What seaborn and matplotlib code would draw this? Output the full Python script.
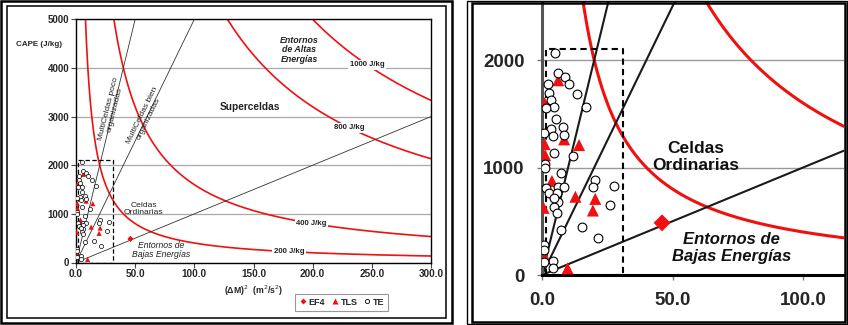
import numpy as np
import pandas as pd
import matplotlib
matplotlib.use("Agg")
import matplotlib.pyplot as plt
import seaborn as sns
from matplotlib.patches import Rectangle
from matplotlib.lines import Line2D

# ---------------- data ----------------
te_dm2 = [5.0, 6.3, 8.7, 10.4, 13.6, 16.8, 2.3, 2.8, 3.6, 4.7, 1.7, 5.3, 7.9, 3.4,
          4.3, 8.5, 0.9, 4.7, 12.0, 1.2, 1.2, 7.3, 6.0, 8.5, 1.5, 2.8, 5.7, 6.2,
          4.7, 5.7, 4.5, 20.3, 19.7, 27.6, 26.0, 7.3, 15.5, 21.3, 0.9, 0.9, 4.3,
          4.3, 0.9]
te_cape = [2065, 1875, 1840, 1778, 1688, 1566, 1780, 1693, 1632, 1562, 1553, 1447,
           1376, 1355, 1290, 1300, 1318, 1132, 1105, 1035, 995, 946, 821, 816, 806,
           760, 766, 682, 635, 580, 715, 884, 821, 828, 651, 422, 449, 344, 275,
           230, 130, 65, 120]
tls_dm2 = [6.2, 1.0, 8.5, 14.2, 1.0, 1.2, 3.8, 0.6, 12.8, 20.4, 19.5, 1.2, 9.8]
tls_cape = [1812, 1600, 1262, 1209, 1218, 1116, 875, 625, 728, 708, 600, 165, 62]
ef4_dm2 = [46.0]
ef4_cape = [485]

energy_levels = [200, 400, 800, 1000]          # sqrt(CAPE * dM^2)  [J/kg]
energy_labels = ["200 J/kg", "400 J/kg", "800 J/kg", "1000 J/kg"]
energy_label_x = [180, 199, 231, 246]
ratio_slopes = [100, 50, 10]                   # CAPE / dM^2 separating lines
box_dm2 = [1.5, 31.0]
box_cape = [0, 2100]

left_xticks = [0, 50, 100, 150, 200, 250, 300]
left_yticks = [0, 1000, 2000, 3000, 4000, 5000]
right_xticks = [0, 50, 100]
right_yticks = [0, 1000, 2000]

df = pd.concat([
    pd.DataFrame({"dm2": te_dm2, "cape": te_cape, "tipo": "TE"}),
    pd.DataFrame({"dm2": tls_dm2, "cape": tls_cape, "tipo": "TLS"}),
    pd.DataFrame({"dm2": ef4_dm2, "cape": ef4_cape, "tipo": "EF4"}),
], ignore_index=True)

# ---------------- style ----------------
sns.set_theme(style="white")
plt.rcParams["font.family"] = ["Liberation Sans", "DejaVu Sans"]
RED = "#f01010"

W, H = 848, 325
fig = plt.figure(figsize=(W / 100, H / 100), dpi=100)
fig.patch.set_facecolor("white")


def ax_rect(l, r, t, b):
    return [l / W, 1 - b / H, (r - l) / W, (b - t) / H]


def frame(x0, y0, x1, y1, lw):
    fig.add_artist(Rectangle((x0 / W, 1 - y1 / H), (x1 - x0) / W, (y1 - y0) / H,
                             transform=fig.transFigure, fill=False, ec="black",
                             lw=lw, zorder=10))


axL = fig.add_axes(ax_rect(76, 431, 19.3, 262.5))
axR = fig.add_axes(ax_rect(542, 844, 2, 275))


def draw(ax, xmax, ymax, big):
    lw_red = 2.2 if big else 1.2
    lw_blk = 1.5 if big else 0.6
    xs = np.linspace(0.5, xmax, 600)
    for lev in energy_levels:
        ax.plot(xs, np.array(lev) ** 2 / xs, color=RED, lw=lw_red, zorder=2)
    for m in ratio_slopes:
        ax.plot([0, xmax], [0, m * xmax], color="#1a1a1a" if big else "#333333",
                lw=lw_blk, zorder=2)
    ax.plot([box_dm2[0], box_dm2[0], box_dm2[1], box_dm2[1], box_dm2[0]],
            [box_cape[0], box_cape[1], box_cape[1], box_cape[0], box_cape[0]],
            color="black", lw=1.5 if big else 0.9, ls=(0, (3, 2)) if big else (0, (3.5, 2)),
            zorder=3)
    s_tri, s_circ, s_dia = (75, 40, 75) if big else (14, 9, 10)
    sns.scatterplot(data=df[df.tipo == "TLS"], x="dm2", y="cape", marker="^",
                    color=RED, edgecolor="none", s=s_tri, ax=ax, zorder=4, legend=False)
    sns.scatterplot(data=df[df.tipo == "TE"], x="dm2", y="cape", marker="o",
                    facecolor="white", edgecolor="black", linewidth=0.8 if big else 0.5,
                    s=s_circ, ax=ax, zorder=5, legend=False)
    sns.scatterplot(data=df[df.tipo == "EF4"], x="dm2", y="cape", marker="D",
                    color=RED, edgecolor="none", s=s_dia, ax=ax, zorder=6, legend=False)
    ax.set_xlim(0, xmax)
    ax.set_ylim(0, ymax)
    ax.set_xlabel("")
    ax.set_ylabel("")


# ---------------- left panel ----------------
draw(axL, 300, 5000, False)
axL.set_xticks(left_xticks)
axL.set_xticklabels([f"{v:.1f}" for v in left_xticks], fontsize=7.2, fontweight="bold")
axL.set_yticks(left_yticks)
axL.set_yticklabels([str(v) for v in left_yticks], fontsize=7.0, fontweight="bold")
axL.yaxis.grid(True, color="#a8a8a8", lw=0.9)
axL.set_axisbelow(True)
for sp in axL.spines.values():
    sp.set_color("black")
    sp.set_linewidth(1.0)
axL.tick_params(axis="both", direction="out", length=3.5, width=0.8, color="#444444",
                pad=1.5, bottom=True, left=True)

for lev, lab, lx in zip(energy_levels, energy_labels, energy_label_x):
    axL.text(lx, lev ** 2 / lx, lab, fontsize=5.6, fontweight="bold", color="#222222",
             ha="center", va="center", zorder=7,
             bbox=dict(facecolor="white", edgecolor="none", pad=1.2))

axL.text(30, 3150, "MultiCeldas poco\norganizadas", rotation=76, fontsize=6.0,
         color="#222222", ha="center", va="center", rotation_mode="anchor",
         linespacing=1.0, zorder=7)
axL.text(59, 2990, "MultiCeldas bien\norganizadas", rotation=64, fontsize=6.0,
         color="#222222", ha="center", va="center", rotation_mode="anchor",
         linespacing=1.0, zorder=7)
axL.text(147, 3196, "Superceldas", fontsize=7.3, fontweight="bold", color="#222222",
         ha="center", va="center", zorder=7)
axL.text(188.5, 4370, "Entornos\nde Altas\nEnergías", fontsize=6.4, fontweight="bold",
         style="italic", color="#222222", ha="center", va="center", linespacing=1.05,
         zorder=7, bbox=dict(facecolor="white", edgecolor="none", pad=1.0))
axL.text(57, 1103, "Celdas\nOrdinarias", fontsize=6.1, color="#222222", ha="center",
         va="center", linespacing=1.0, zorder=7)
axL.text(72, 250, "Entornos de\nBajas Energías", fontsize=6.2, style="italic",
         color="#222222", ha="center", va="center", linespacing=1.0, zorder=7)

axL.set_xlabel("(ΔM)$^2$  (m$^2$/s$^2$)", fontsize=6.3, fontweight="bold")
axL.xaxis.set_label_coords(0.5, -0.085)
fig.text(16 / W, 1 - 44 / H, "CAPE (J/kg)", fontsize=5.8, fontweight="bold",
         ha="left", va="center")

handles = [
    Line2D([], [], marker="D", color=RED, ls="none", markersize=3.0, mec="none"),
    Line2D([], [], marker="^", color=RED, ls="none", markersize=4.0, mec="none"),
    Line2D([], [], marker="o", mfc="white", mec="black", ls="none", markersize=3.0, mew=0.6),
]
leg = axL.legend(handles, ["EF4", "TLS", "TE"], loc="center",
                 bbox_to_anchor=(0.749, -0.163), ncol=3, fontsize=6.5,
                 prop={"weight": "bold", "size": 6.5}, frameon=True, fancybox=False,
                 edgecolor="#808080", handlelength=0.7, handletextpad=0.3,
                 columnspacing=0.7, borderpad=0.45)
leg.get_frame().set_linewidth(0.8)

# ---------------- right panel ----------------
draw(axR, 115.7, 2540, True)
axR.set_xticks(right_xticks)
axR.set_xticklabels([f"{v:.1f}" for v in right_xticks], fontsize=13.5, fontweight="bold")
axR.set_yticks(right_yticks)
axR.set_yticklabels([str(v) for v in right_yticks], fontsize=13.5, fontweight="bold")
axR.yaxis.grid(True, color="#999999", lw=1.0)
axR.set_axisbelow(True)
axR.spines["top"].set_visible(False)
axR.spines["right"].set_visible(False)
axR.spines["bottom"].set_color("black")
axR.spines["bottom"].set_linewidth(2.2)
axR.spines["left"].set_color("#555555")
axR.spines["left"].set_linewidth(2.2)
axR.tick_params(axis="both", direction="out", length=3.5, width=1.0, color="#777777",
                pad=9, bottom=True, left=True)
axR.text(58.8, 1098, "Celdas\nOrdinarias", fontsize=12.5, fontweight="bold",
         color="#111111", ha="center", va="center", linespacing=1.1, zorder=7)
axR.text(72.5, 251, "Entornos de\nBajas Energías", fontsize=12, fontweight="bold",
         style="italic", color="#111111", ha="center", va="center", linespacing=1.1,
         zorder=7)

# ---------------- panel frames ----------------
frame(1, 1, 451.5, 323, 1.8)
frame(6.5, 6, 445.5, 317.5, 1.1)
frame(467.5, 1, 846.5, 323.5, 1.0)
frame(472, 2.5, 845, 322, 1.8)

fig.savefig("out.png", dpi=100, facecolor="white")
